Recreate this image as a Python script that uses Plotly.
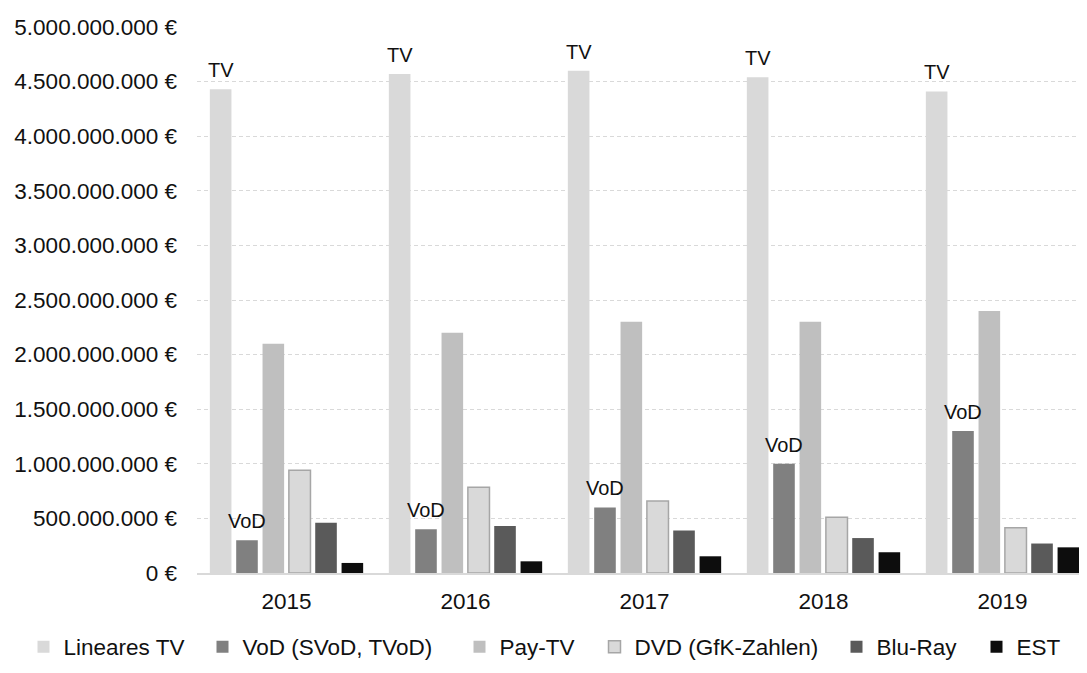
import plotly.graph_objects as go

# ---- data ----
years = ["2015", "2016", "2017", "2018", "2019"]
linear_tv = [4.43e9, 4.57e9, 4.60e9, 4.54e9, 4.41e9]
vod = [0.30e9, 0.40e9, 0.60e9, 1.00e9, 1.30e9]
pay_tv = [2.10e9, 2.20e9, 2.30e9, 2.30e9, 2.40e9]
dvd = [0.94e9, 0.785e9, 0.66e9, 0.51e9, 0.415e9]
bluray = [0.46e9, 0.43e9, 0.39e9, 0.32e9, 0.27e9]
est = [0.092e9, 0.107e9, 0.153e9, 0.19e9, 0.235e9]
series_names = ["Lineares TV", "VoD (SVoD, TVoD)", "Pay-TV", "DVD (GfK-Zahlen)", "Blu-Ray", "EST"]
bar_labels = {0: "TV", 1: "VoD"}
y_ticks = [0, 5e8, 1e9, 1.5e9, 2e9, 2.5e9, 3e9, 3.5e9, 4e9, 4.5e9, 5e9]
y_ticktext = [f"{int(v):,}".replace(",", ".") + " €" for v in y_ticks]

series_values = [linear_tv, vod, pay_tv, dvd, bluray, est]
fills = ["#d9d9d9", "#808080", "#bfbfbf", "#d9d9d9", "#5a5a5a", "#0d0d0d"]
lines = ["#d9d9d9", "#808080", "#bfbfbf", "#a6a6a6", "#5a5a5a", "#0d0d0d"]

FONT = "Liberation Sans, Arial, sans-serif"
TXT = "#111111"
BARGAP = 0.117
PAGE_OFF = 8            # default body margin of the html page
W, H = 1087 - PAGE_OFF, 673 - PAGE_OFF
ML, MR, MT, MB = 197 - PAGE_OFF, 0, 27 - PAGE_OFF, 100
x_range = [-0.5, 4.472]

fig = go.Figure()
legend_text_px = [59, 238, 495, 630, 872, 1012]
for i, (name, vals) in enumerate(zip(series_names, series_values)):
    lg = "legend" if i == 0 else f"legend{i+1}"
    fig.add_trace(go.Bar(
        x=years, y=vals, name=name,
        marker=dict(color=fills[i], line=dict(color=lines[i], width=1.5 if i == 3 else 0)),
        legend=lg,
    ))

# labels above TV and VoD bars
slot = (1 - BARGAP) / len(series_names)
annotations = []
for i, txt in bar_labels.items():
    vals = series_values[i]
    for k, v in enumerate(vals):
        annotations.append(dict(
            x=k + (i - (len(series_names) - 1) / 2) * slot, y=v, xref="x", yref="y",
            text=txt, showarrow=False, yanchor="bottom", yshift=6,
            font=dict(family=FONT, size=20, color=TXT),
        ))

layout_legends = {}
for i in range(len(series_names)):
    key = "legend" if i == 0 else f"legend{i+1}"
    layout_legends[key] = dict(
        orientation="h", xref="container", yref="container",
        x=(legend_text_px[i] - 35.5 - PAGE_OFF) / W, xanchor="left",
        y=(H - (647 - PAGE_OFF)) / H, yanchor="middle",
        font=dict(family=FONT, size=22.5, color=TXT),
        bgcolor="rgba(0,0,0,0)", borderwidth=0,
    )

fig.update_layout(
    width=W, height=H,
    margin=dict(l=ML, r=MR, t=MT, b=MB, autoexpand=False),
    paper_bgcolor="white", plot_bgcolor="white",
    barmode="group", bargap=BARGAP, bargroupgap=0.18,
    annotations=annotations,
    showlegend=True,
    font=dict(family=FONT, size=22.5, color=TXT),
    **layout_legends,
)
fig.update_xaxes(
    type="category", range=x_range,
    showline=True, linecolor="#d9d9d9", linewidth=2,
    showgrid=False, ticks="", ticklabelstandoff=7,
    tickfont=dict(family=FONT, size=22.5, color=TXT),
)
fig.update_yaxes(
    range=[0, 5e9], tickmode="array", tickvals=y_ticks, ticktext=y_ticktext,
    showgrid=True, gridcolor="#d9d9d9", gridwidth=1, griddash="4px,3px",
    zeroline=False, showline=False, ticks="", ticklabelstandoff=19,
    tickfont=dict(family=FONT, size=22.5, color=TXT),
)

fig.write_html("out.html")
